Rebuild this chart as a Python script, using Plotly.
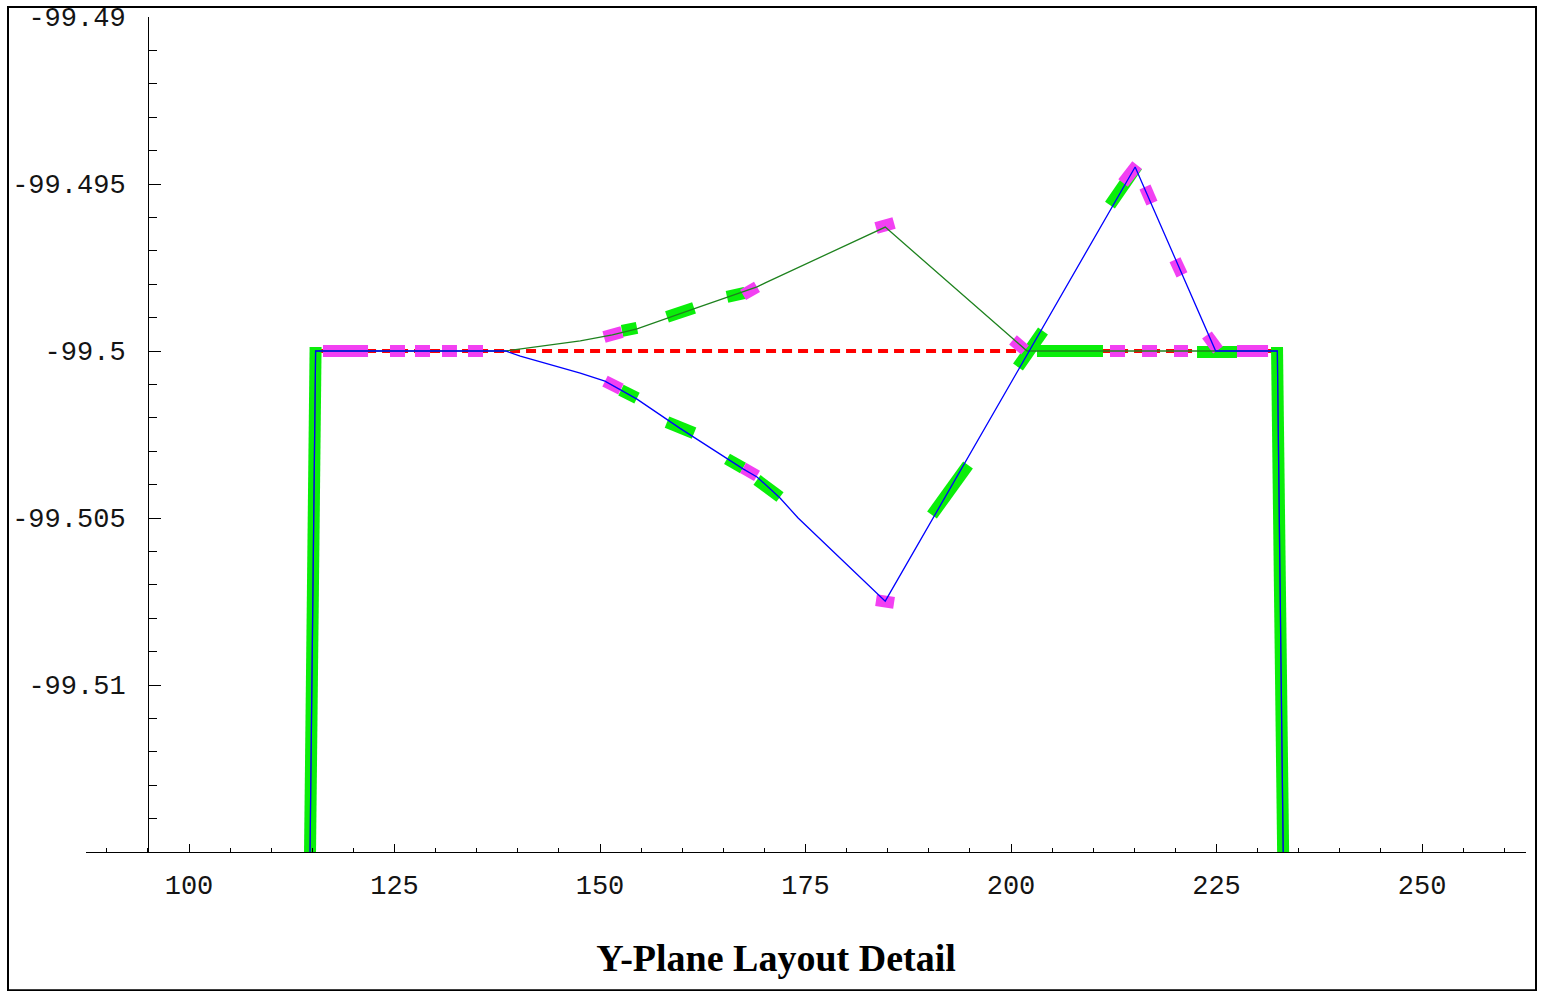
import plotly.graph_objects as go

# ---------------- data ----------------
# thin trajectory (blue)
blue_x = [114.5, 115.4, 138.5, 140.3, 147.6, 150.6, 154.5, 159.7, 167.4, 169.1, 171.9, 174.1,
          184.7, 215.1, 224.9, 232.4, 233.35]
blue_y = [-99.52, -99.5, -99.5, -99.50015, -99.50066, -99.5009, -99.50144, -99.50231, -99.50353,
          -99.50377, -99.5044, -99.5050, -99.50749, -99.49449, -99.5, -99.5, -99.52]

# thin trajectory (dark green)
green_x = [114.5, 115.4, 138.5, 147.6, 151.5, 154.5, 161.4, 169.1, 170.1, 184.7, 201.95, 232.4, 233.35]
green_y = [-99.52, -99.5, -99.5, -99.4997, -99.49952, -99.49934, -99.49874, -99.49808, -99.49796,
           -99.49629, -99.5, -99.5, -99.52]

# reference line (red dashed)
ref_x = [115.7, 232.2]
ref_y = [-99.5, -99.5]

# thick element segments (x0, y0, x1, y1)
green_segments = [
    (114.5, -99.52, 115.4, -99.49988),
    (152.55, -99.50117, 154.5, -99.50141),
    (158.15, -99.50213, 161.44, -99.50246),
    (165.45, -99.50323, 167.40, -99.5035),
    (169.10, -99.50386, 171.90, -99.50437),
    (190.39, -99.50491, 194.77, -99.50341),
    (200.85, -99.50048, 203.89, -99.4994),
    (203.16, -99.5, 211.19, -99.5),
    (212.04, -99.49563, 215.33, -99.49446),
    (222.63, -99.50003, 227.49, -99.50003),
    (232.36, -99.49988, 233.35, -99.52),
    (152.68, -99.4994, 154.5, -99.49931),
    (158.15, -99.49898, 161.44, -99.49871),
    (165.45, -99.49838, 167.64, -99.49826),
]
magenta_segments = [
    (116.30, -99.5, 121.78, -99.5),
    (124.45, -99.5, 126.28, -99.5),
    (127.49, -99.5, 129.32, -99.5),
    (130.78, -99.5, 132.60, -99.5),
    (133.94, -99.5, 135.77, -99.5),
    (150.61, -99.5009, 152.55, -99.50114),
    (167.40, -99.5035, 169.10, -99.50374),
    (183.58, -99.50746, 185.77, -99.50754),
    (150.49, -99.49958, 152.68, -99.49943),
    (167.40, -99.49832, 169.10, -99.49808),
    (183.58, -99.49632, 185.77, -99.49617),
    (200.24, -99.49967, 201.70, -99.49997),
    (213.63, -99.49497, 215.33, -99.49443),
    (216.30, -99.49509, 217.15, -99.49557),
    (219.95, -99.49727, 220.80, -99.49772),
    (223.84, -99.49952, 225.18, -99.49997),
    (212.04, -99.5, 213.87, -99.5),
    (215.94, -99.5, 217.76, -99.5),
    (219.83, -99.5, 221.53, -99.5),
    (227.49, -99.5, 231.27, -99.5),
]

x_tickvals = [100, 125, 150, 175, 200, 225, 250]
x_ticktext = ["100", "125", "150", "175", "200", "225", "250"]
y_tickvals = [-99.51, -99.505, -99.5, -99.495, -99.49]
y_ticktext = ["-99.51", "-99.505", "-99.5", "-99.495", "-99.49"]

title_text = "Y-Plane Layout Detail"


def seg_xy(segs):
    xs, ys = [], []
    for x0, y0, x1, y1 in segs:
        xs += [x0, x1, None]
        ys += [y0, y1, None]
    return xs, ys


fig = go.Figure()

fig.add_trace(go.Scatter(x=ref_x, y=ref_y, mode="lines",
                         line=dict(color="rgb(255,0,0)", width=4, dash="10px,6px")))
gx, gy = seg_xy(green_segments)
fig.add_trace(go.Scatter(x=gx, y=gy, mode="lines",
                         line=dict(color="rgb(10,238,10)", width=12)))
mx, my = seg_xy(magenta_segments)
fig.add_trace(go.Scatter(x=mx, y=my, mode="lines",
                         line=dict(color="rgb(242,64,242)", width=12)))
fig.add_trace(go.Scatter(x=green_x, y=green_y, mode="lines",
                         line=dict(color="rgb(30,130,30)", width=1.3)))
fig.add_trace(go.Scatter(x=blue_x, y=blue_y, mode="lines",
                         line=dict(color="rgb(0,0,255)", width=1.3)))

tick_font = dict(family="Liberation Mono, Courier New, monospace", size=27, color="rgb(20,20,20)")

fig.update_layout(
    width=1543, height=991,
    margin=dict(l=86, r=17, t=17, b=139, autoexpand=False),
    paper_bgcolor="white", plot_bgcolor="white",
    showlegend=False, hovermode=False,
    title=dict(text="<b>" + title_text + "</b>",
               font=dict(family="Liberation Serif, Times New Roman, serif", size=38, color="black"),
               x=776 / 1543, xref="container", xanchor="center",
               y=1 - 958 / 991, yref="container", yanchor="middle"),
    xaxis=dict(range=[87.47, 262.65], showgrid=False, zeroline=False, automargin=False,
               showline=True, linecolor="black", linewidth=1,
               tickmode="array", tickvals=x_tickvals, ticktext=x_ticktext,
               ticks="inside", ticklen=8, tickwidth=1, tickcolor="black",
               tickfont=tick_font, ticklabelstandoff=9,
               minor=dict(tickmode="linear", tick0=90, dtick=5, ticks="inside",
                          ticklen=4, tickwidth=1, tickcolor="black", showgrid=False)),
    yaxis=dict(range=[-99.515, -99.49], showgrid=False, zeroline=False, automargin=False,
               anchor="free", position=62 / 1440,
               showline=True, linecolor="black", linewidth=1,
               tickmode="array", tickvals=y_tickvals, ticktext=y_ticktext,
               ticks="inside", ticklen=12, tickwidth=1, tickcolor="black",
               tickfont=tick_font, ticklabelstandoff=17,
               minor=dict(tickmode="linear", tick0=-99.515, dtick=0.001, ticks="inside",
                          ticklen=8, tickwidth=1, tickcolor="black", showgrid=False)),
    shapes=[dict(type="rect", xref="paper", yref="paper",
                 x0=-78 / 1440, x1=1450 / 1440, y0=-138 / 834, y1=844 / 834,
                 line=dict(color="black", width=2), fillcolor="rgba(0,0,0,0)", layer="above")],
)

fig.write_html("out.html")
